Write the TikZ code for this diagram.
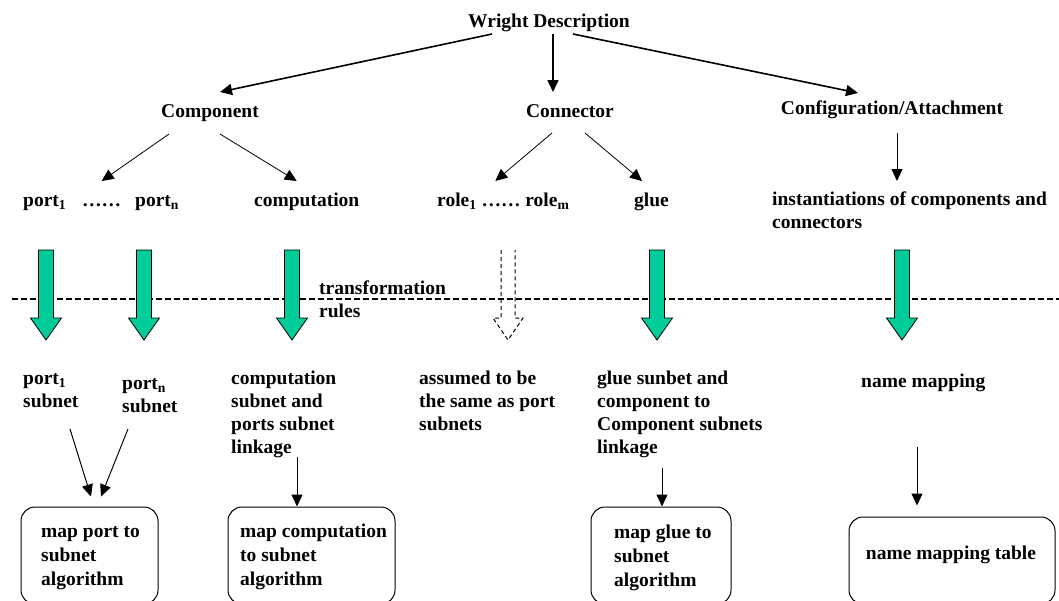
\documentclass[tikz,border=0pt]{standalone}
\usepackage{fontspec}
\setmainfont{Liberation Serif}
\usetikzlibrary{arrows.meta,calc}
\definecolor{arrowgreen}{HTML}{00CC99}
\begin{document}
\begin{tikzpicture}[x=1pt,y=-1pt,
  lbl/.style={font=\fontsize{19.5}{23}\selectfont\bfseries, inner sep=0pt, align=left},
  boxlbl/.style={lbl, font=\fontsize{19.5}{24}\selectfont\bfseries},
  link/.style={-{Triangle[length=12pt,width=11pt]}, line width=1pt},
  thinlink/.style={link, line width=0.8pt},
  toplink/.style={link, line width=1.6pt},
  algobox/.style={draw, line width=1pt, rounded corners=14pt, inner sep=0pt},
  flowarrow/.style={draw=black, line width=0.8pt, fill=arrowgreen},
  pics/flow/.style={code={\path[pic actions] (-7.5,0) -- (7.5,0) -- (7.5,68) -- (15.5,68) -- (0,90) -- (-15.5,68) -- (-7.5,68) -- cycle;}},
  pics/dashflow/.style={code={\path[pic actions] (-7,0) -- (-7,68) -- (-15,68) -- (0,90) -- (15,68) -- (7,68) -- (7,0);}},
]
% canvas
\path[fill=white] (0,0) rectangle (1059,600);
\useasboundingbox (0,0) rectangle (1059,600);

% top level
\node[lbl, anchor=base] (wd) at (549,27) {Wright Description};
\node[lbl, anchor=base] (comp) at (210,117) {Component};
\node[lbl, anchor=base] (conn) at (570,117) {Connector};
\node[lbl, anchor=base] (cfg) at (892,114) {Configuration/Attachment};

\draw[toplink] ($(wd.base)+(-57,7)$) -- ($(comp.base)+(10,-25)$);
\draw[toplink] ($(wd.base)+(4,7)$) -- ($(conn.base)+(-17,-25)$);
\draw[toplink] ($(wd.base)+(24,7)$) -- ($(cfg.base)+(-34,-21)$);

% elements of the description (multi-line labels are placed by their last baseline)
\node[lbl, anchor=base west] (p1) at (23,206) {port\textsubscript{1}};
\node[lbl, anchor=base west] (pdots) at (82,206) {……};
\node[lbl, anchor=base west] (pn) at (135,206) {port\textsubscript{n}};
\node[lbl, anchor=base west] (compu) at (254,206) {computation};
\node[lbl, anchor=base west] (roles) at (437,206) {role\textsubscript{1} …… role\textsubscript{m}};
\node[lbl, anchor=base west] (glue) at (634,206) {glue};
\node[lbl, anchor=base west] (inst) at (772,228) {instantiations of components and\\connectors};

\draw[thinlink] ($(comp.base)+(-41,17)$) -- ($(pdots.base)+(0,-25)$);
\draw[thinlink] ($(comp.base)+(10,17)$) -- ($(compu.base)+(-10,-25)$);
\draw[thinlink] ($(conn.base)+(-18,16)$) -- ($(roles.base)+(-8,-25)$);
\draw[thinlink] ($(conn.base)+(15,16)$) -- ($(glue.base)+(-9.5,-25)$);
\draw[thinlink] ($(cfg.base)+(5,19)$) -- ($(inst.base west)+(125,-47)$);

% transformation rules
\draw[dash pattern=on 6pt off 3pt, line width=1.2pt] (12,299) -- (1059,299);
\node[lbl, anchor=base west] (tr) at (319,317) {transformation\\rules};

\pic[flowarrow] at (46,250) {flow};
\pic[flowarrow] at (144,250) {flow};
\pic[flowarrow] at (292,250) {flow};
\pic[draw=black, line width=1pt, dash pattern=on 4pt off 3pt] at (508,250) {dashflow};
\pic[flowarrow] at (657,250) {flow};
\pic[flowarrow] at (902,250) {flow};

% resulting subnets
\node[lbl, anchor=base west] (p1sub) at (23,407) {port\textsubscript{1}\\subnet};
\node[lbl, anchor=base west] (pnsub) at (122,412) {port\textsubscript{n}\\subnet};
\node[lbl, anchor=base west] (compsub) at (231,453) {computation\\subnet and\\ports subnet\\linkage};
\node[lbl, anchor=base west] (assumed) at (419,430) {assumed to be\\the same as port\\subnets};
\node[lbl, anchor=base west] (gluesub) at (597,453) {glue sunbet and\\component to\\Component subnets\\linkage};
\node[lbl, anchor=base west] (nm) at (861,387) {name mapping};

% algorithms
\node[algobox, minimum width=137pt, minimum height=97pt] (b1) at (89.5,555.5) {};
\node[algobox, minimum width=167pt, minimum height=97pt] (b2) at (311.5,555.5) {};
\node[algobox, minimum width=140pt, minimum height=97pt] (b3) at (661,555.5) {};
\node[algobox, minimum width=206pt, minimum height=87pt] (b4) at (952,560.5) {};

\node[boxlbl, anchor=base west] (b1t) at (41,585) {map port to\\subnet\\algorithm};
\node[boxlbl, anchor=base west] (b2t) at (240,585) {map computation\\to subnet\\algorithm};
\node[boxlbl, anchor=base west] (b3t) at (614,586) {map glue to\\subnet\\algorithm};
\node[boxlbl, anchor=base] (b4t) at (951,559) {name mapping table};

\draw[link] ($(p1sub.base west)+(47,22)$) -- ($(b1.north)+(1.5,-10)$);
\draw[link] ($(pnsub.base west)+(6,17)$) -- ($(b1.north)+(11.5,-10)$);
\draw[link] ($(compsub.base west)+(66,4)$) -- ($(b2.north)+(-14.5,0)$);
\draw[link] ($(gluesub.base west)+(65,15)$) -- ($(b3.north)+(1,0)$);
\draw[link] ($(nm.base west)+(56,60)$) -- ($(b4.north)+(-35,-11)$);
\end{tikzpicture}
\end{document}
